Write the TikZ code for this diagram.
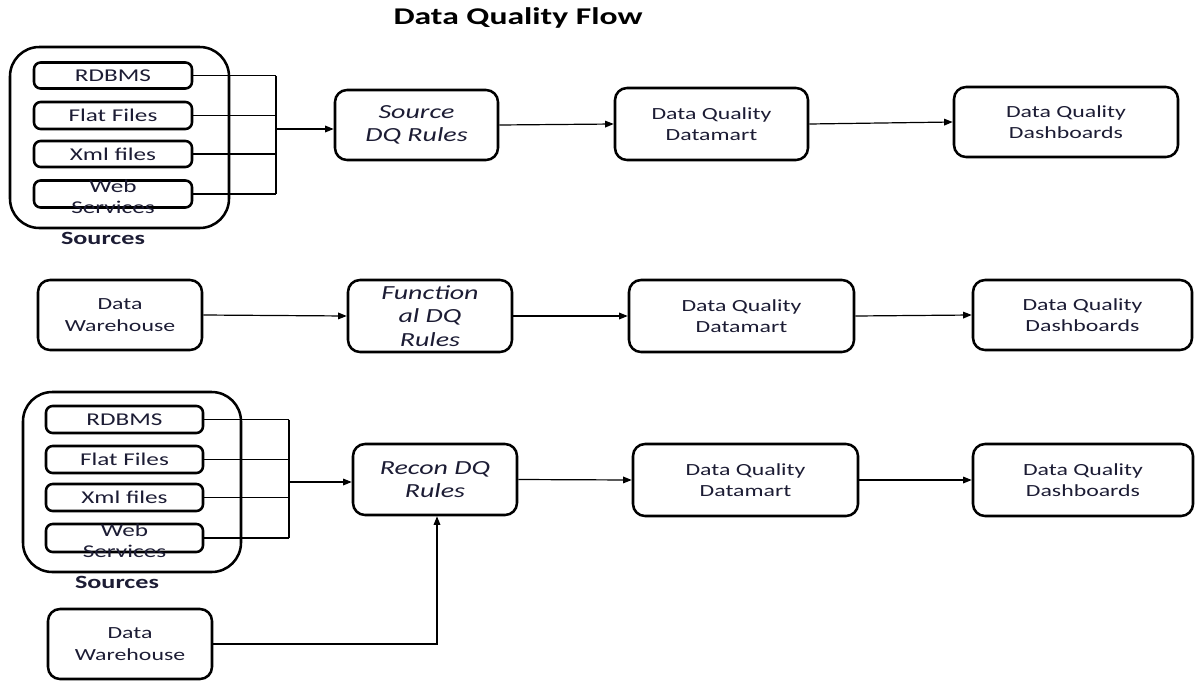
\documentclass[tikz,border=0pt]{standalone}
\usepackage{fontspec}
\setmainfont{Carlito}[FakeStretch=1.4]
\usetikzlibrary{arrows.meta}
\definecolor{ink}{RGB}{28,28,52}
\begin{document}
\begin{tikzpicture}[x=0.75pt,y=-0.75pt,
  box/.style={draw=black,line width=1.9pt,rounded corners=9pt,
    minimum width=#1*0.75pt,inner sep=0pt,align=center,text=ink,
    font=\fontsize{12.75}{16}\selectfont},
  box/.default=160,
  tall/.style={minimum height=#1*0.75pt},
  item/.style={box=#1,rounded corners=5pt,font=\fontsize{13.5}{16}\selectfont},
  group/.style={draw=black,line width=1.9pt,rounded corners=22pt,inner sep=0pt},
  rules/.style={font=\fontsize{15}{17.5}\selectfont\itshape},
  wire/.style={draw=black,line width=0.9pt},
  flow/.style={wire,-{Triangle[length=6.5pt,width=5pt]}},
  caption/.style={font=\fontsize{14}{16}\selectfont\bfseries,text=ink,inner sep=0pt},
  title/.style={font=\fontsize{18}{20}\selectfont\bfseries,text=black,inner sep=0pt}]

\useasboundingbox (0,0) rectangle (1196,682);

\node[title] (ttl) at (518,18) {Data Quality Flow};

% ---- Source rules flow
\node[group,minimum width=219*0.75pt,minimum height=181*0.75pt] (g1) at (119.5,137.5) {};
\node[item=158,tall=26] (s1a) at (113,75.5) {RDBMS};
\node[item=158,tall=27] (s1b) at (113,115.5) {Flat Files};
\node[item=158,tall=26] (s1c) at (113,154) {Xml files};
\node[item=158,tall=27] (s1d) at (113,194) {};
\node[item=158,draw=none] (s1dt) at (113,197) {Web\\Services};
\node[caption] (cap1) at (103,238) {Sources};

\node[box=163,tall=70,rules] (sdq) at (416.5,125) {Source\\DQ Rules};
\node[box=193,tall=72] (dm1) at (711.5,124) {Data Quality\\Datamart};
\node[box=224,tall=70] (db1) at (1066,122) {Data Quality\\Dashboards};

\coordinate (j1) at (276,129);
\foreach \s in {s1a,s1b,s1c,s1d} \draw[wire] (\s.east) -- (\s.east -| j1);
\draw[wire] (s1a.east -| j1) -- (s1d.east -| j1);
\draw[flow] (j1) -- (j1 -| sdq.west);
\draw[flow] (sdq.east) -- (dm1.west);
\draw[flow] (dm1.east) -- (db1.west);

% ---- Functional rules flow
\node[box=164,tall=70] (dw1) at (120,315) {Data\\Warehouse};
\node[box=164,tall=72,rules] (fdq) at (430,316) {Function\\al DQ\\Rules};
\node[box=225,tall=72] (dm2) at (741.5,316) {Data Quality\\Datamart};
\node[box=219,tall=70] (db2) at (1082.5,315) {Data Quality\\Dashboards};

\draw[flow] (dw1.east) -- (fdq.west);
\draw[flow] (fdq.east) -- (dm2.west);
\draw[flow] (dm2.east) -- (db2.west);

% ---- Reconciliation rules flow
\node[group,minimum width=218*0.75pt,minimum height=180*0.75pt] (g2) at (132,482) {};
\node[item=157,tall=27] (s2a) at (124.5,419.5) {RDBMS};
\node[item=157,tall=27] (s2b) at (124.5,459.5) {Flat Files};
\node[item=157,tall=27] (s2c) at (124.5,497.5) {Xml files};
\node[item=157,tall=28] (s2d) at (124.5,538) {};
\node[item=157,draw=none] (s2dt) at (124.5,541) {Web\\Services};
\node[caption] (cap2) at (117,582) {Sources};

\node[box=164,tall=71,rules] (rdq) at (435,479.5) {Recon DQ\\Rules};
\node[box=225,tall=72] (dm3) at (745.5,480) {Data Quality\\Datamart};
\node[box=220,tall=72] (db3) at (1083,480) {Data Quality\\Dashboards};
\node[box=164,tall=70] (dw2) at (130,644) {Data\\Warehouse};

\coordinate (j2) at (289,482);
\foreach \s in {s2a,s2b,s2c,s2d} \draw[wire] (\s.east) -- (\s.east -| j2);
\draw[wire] (s2a.east -| j2) -- (s2d.east -| j2);
\draw[flow] (j2) -- (j2 -| rdq.west);
\draw[flow] (rdq.east) -- (dm3.west);
\draw[flow] (dm3.east) -- (db3.west);
\coordinate (up) at (437,0);
\draw[flow] (dw2.east) -| (up |- rdq.south);
\end{tikzpicture}
\end{document}
